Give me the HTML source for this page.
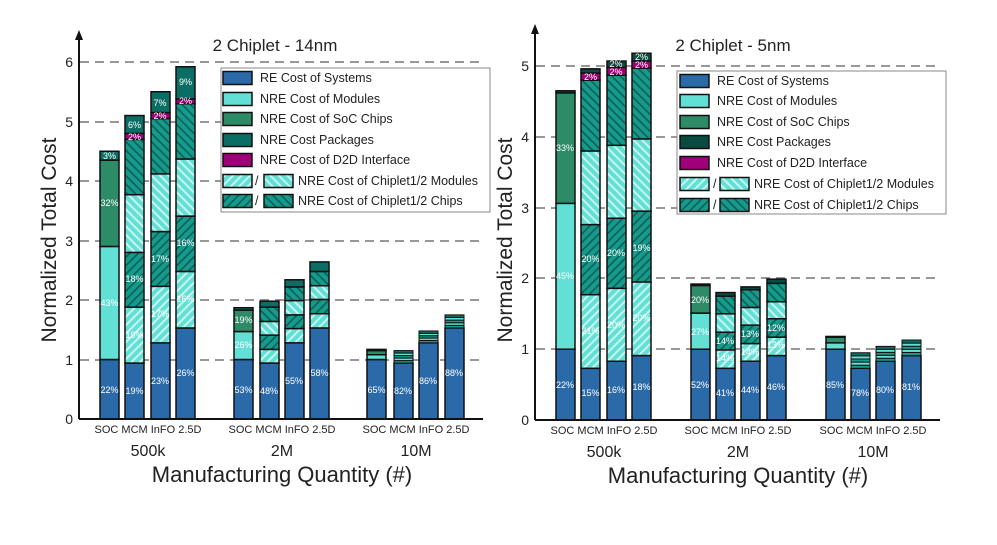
<!DOCTYPE html>
<html><head><meta charset="utf-8"><style>
html,body{margin:0;padding:0;background:#fff;}
svg{display:block;font-family:"Liberation Sans",Arial,sans-serif;}
.pct{fill:#fff;font-size:9px;text-anchor:middle;}
.tk{font-size:14px;fill:#222;text-anchor:end;}
.cat{font-size:11px;fill:#222;text-anchor:middle;}
.grp{font-size:16px;fill:#222;text-anchor:middle;}
.lg{font-size:12.5px;fill:#222;}
</style></head><body>
<svg id="s" width="997" height="545" viewBox="0 0 997 545" xmlns="http://www.w3.org/2000/svg">
<defs>
<pattern id="l1" patternUnits="userSpaceOnUse" width="6" height="6" patternTransform="rotate(45)"><rect width="6" height="6" fill="#62e0d6"/><rect width="2" height="6" fill="#c8f4ef"/></pattern>
<pattern id="l2" patternUnits="userSpaceOnUse" width="6" height="6" patternTransform="rotate(-45)"><rect width="6" height="6" fill="#62e0d6"/><rect width="2" height="6" fill="#c8f4ef"/></pattern>
<pattern id="c1" patternUnits="userSpaceOnUse" width="6" height="6" patternTransform="rotate(45)"><rect width="6" height="6" fill="#169a8c"/><rect width="1.6" height="6" fill="#0c5f56"/></pattern>
<pattern id="c2" patternUnits="userSpaceOnUse" width="6" height="6" patternTransform="rotate(-45)"><rect width="6" height="6" fill="#169a8c"/><rect width="1.6" height="6" fill="#0c5f56"/></pattern>
</defs>
<g stroke="#777" stroke-width="1.6" stroke-dasharray="9,6">
<line x1="80" y1="360" x2="483" y2="360"/><line x1="80" y1="300" x2="483" y2="300"/><line x1="80" y1="241" x2="483" y2="241"/><line x1="80" y1="181" x2="483" y2="181"/><line x1="80" y1="122" x2="483" y2="122"/><line x1="80" y1="62" x2="483" y2="62"/>
<line x1="536" y1="349" x2="940" y2="349"/><line x1="536" y1="278" x2="940" y2="278"/><line x1="536" y1="208" x2="940" y2="208"/><line x1="536" y1="137" x2="940" y2="137"/><line x1="536" y1="66" x2="940" y2="66"/>
</g>
<g id="bars2"></g>
<g stroke="#111" stroke-width="2" fill="none">
<line x1="79" y1="419" x2="483" y2="419"/><line x1="79" y1="419" x2="79" y2="36"/>
<line x1="535" y1="420" x2="940" y2="420"/><line x1="535" y1="420" x2="535" y2="30"/>
</g>
<path d="M79,30 L75,40 L83,40Z M535,24 L531,34 L539,34Z" fill="#111"/>
<g class="tk">
<text x="73" y="424">0</text><text x="73" y="365">1</text><text x="73" y="305">2</text><text x="73" y="246">3</text><text x="73" y="186">4</text><text x="73" y="127">5</text><text x="73" y="67">6</text>
<text x="529" y="425">0</text><text x="529" y="354">1</text><text x="529" y="283">2</text><text x="529" y="213">3</text><text x="529" y="142">4</text><text x="529" y="71">5</text>
</g>
<text x="275" y="51" font-size="17" text-anchor="middle" fill="#222">2 Chiplet - 14nm</text>
<text x="733" y="51" font-size="17" text-anchor="middle" fill="#222">2 Chiplet - 5nm</text>
<text transform="translate(56,240) rotate(-90)" font-size="21" text-anchor="middle" fill="#222">Normalized Total Cost</text>
<text transform="translate(512,240) rotate(-90)" font-size="21" text-anchor="middle" fill="#222">Normalized Total Cost</text>
<g class="cat">
<text x="148" y="433">SOC MCM InFO 2.5D</text><text x="282" y="433">SOC MCM InFO 2.5D</text><text x="416" y="433">SOC MCM InFO 2.5D</text>
<text x="604" y="434">SOC MCM InFO 2.5D</text><text x="738" y="434">SOC MCM InFO 2.5D</text><text x="873" y="434">SOC MCM InFO 2.5D</text>
</g>
<g class="grp">
<text x="148" y="456">500k</text><text x="282" y="456">2M</text><text x="416" y="456">10M</text>
<text x="604" y="457">500k</text><text x="738" y="457">2M</text><text x="873" y="457">10M</text>
</g>
<text x="282" y="482" font-size="22" text-anchor="middle" fill="#222">Manufacturing Quantity (#)</text>
<text x="738" y="483" font-size="22" text-anchor="middle" fill="#222">Manufacturing Quantity (#)</text>
<g class="pct">
<text x="109.5" y="393">22%</text><text x="109.5" y="306">43%</text><text x="109.5" y="206">32%</text><text x="109.5" y="159">3%</text>
<text x="134.5" y="394">19%</text><text x="134.5" y="338">19%</text><text x="134.5" y="282">18%</text><text x="134.5" y="140">2%</text><text x="134.5" y="128">6%</text>
<text x="160" y="384">23%</text><text x="160" y="317">17%</text><text x="160" y="262">17%</text><text x="160" y="119">2%</text><text x="160" y="106">7%</text>
<text x="185.5" y="376">26%</text><text x="185.5" y="302">16%</text><text x="185.5" y="246">16%</text><text x="185.5" y="104">2%</text><text x="185.5" y="85">9%</text>
<text x="243.5" y="393">53%</text><text x="243.5" y="348">26%</text><text x="243.5" y="323">19%</text>
<text x="269" y="394">48%</text><text x="294" y="384">55%</text><text x="319.5" y="376">58%</text>
<text x="376.5" y="393">65%</text><text x="403" y="394">82%</text><text x="428" y="384">86%</text><text x="454" y="376">88%</text>
<text x="565" y="388">22%</text><text x="565" y="279">45%</text><text x="565" y="151">33%</text>
<text x="590.5" y="396">15%</text><text x="590.5" y="334">21%</text><text x="590.5" y="262">20%</text><text x="590.5" y="80">2%</text>
<text x="616" y="393">16%</text><text x="616" y="328">20%</text><text x="616" y="256">20%</text><text x="616" y="75">2%</text><text x="616" y="67">2%</text>
<text x="641.5" y="390">18%</text><text x="641.5" y="321">20%</text><text x="641.5" y="251">19%</text><text x="641.5" y="68">2%</text><text x="641.5" y="60">2%</text>
<text x="700" y="388">52%</text><text x="700" y="335">27%</text><text x="700" y="303">20%</text>
<text x="725" y="396">41%</text><text x="725" y="361">14%</text><text x="725" y="344">14%</text>
<text x="750" y="393">44%</text><text x="750" y="355">14%</text><text x="750" y="337">13%</text>
<text x="776" y="390">46%</text><text x="776" y="348">13%</text><text x="776" y="331">12%</text>
<text x="835" y="388">85%</text><text x="860" y="396">78%</text><text x="885" y="393">80%</text><text x="911" y="390">81%</text>
</g>
<rect x="221" y="68" width="269" height="144" fill="#fff" stroke="#888" stroke-width="1"/>
<rect x="677" y="71" width="269" height="143" fill="#fff" stroke="#888" stroke-width="1"/>
<g id="leg"></g>
<g class="lg">
<text x="260" y="82">RE Cost of Systems</text><text x="260" y="103">NRE Cost of Modules</text><text x="260" y="123">NRE Cost of SoC Chips</text><text x="260" y="144">NRE Cost Packages</text><text x="260" y="164">NRE Cost of D2D Interface</text>
<text x="255" y="185">/</text><text x="298" y="185">NRE Cost of Chiplet1/2 Modules</text><text x="255" y="205">/</text><text x="298" y="205">NRE Cost of Chiplet1/2 Chips</text>
<text x="717" y="85">RE Cost of Systems</text><text x="717" y="105">NRE Cost of Modules</text><text x="717" y="126">NRE Cost of SoC Chips</text><text x="717" y="146">NRE Cost Packages</text><text x="717" y="167">NRE Cost of D2D Interface</text>
<text x="713" y="188">/</text><text x="754" y="188">NRE Cost of Chiplet1/2 Modules</text><text x="713" y="209">/</text><text x="754" y="209">NRE Cost of Chiplet1/2 Chips</text>
</g>
</svg>
<script>
var F={B:"#2a6aa8",M:"#62e0d6",S:"#2e8b68",P:"#0b6e64",Q:"#0a4a40",D:"#a0007a",L1:"url(#l1)",L2:"url(#l2)",C1:"url(#c1)",C2:"url(#c2)",T:"#169a8c",U:"#62e0d6"};
var NS="http://www.w3.org/2000/svg";
function r(g,x,y,w,h,f,sw){var e=document.createElementNS(NS,"rect");e.setAttribute("x",x);e.setAttribute("y",y);e.setAttribute("width",w);e.setAttribute("height",h);e.setAttribute("fill",f);e.setAttribute("stroke","#111");e.setAttribute("stroke-width",sw||"1.5");g.appendChild(e);}
function chip(b,top){var s=[["B",0,b]],st=(top-b)/5;var t=["T","U","T","U","P"];for(var i=0;i<5;i++)s.push([t[i],b+i*st,b+(i+1)*st,1]);return s;}
function draw(gid,x0s,z,u,bars){var g=document.getElementById(gid);bars.forEach(function(bar,i){bar.forEach(function(s){var y1=z-u*s[2],y2=z-u*s[1];r(g,x0s[i],y1,19,y2-y1,F[s[0]],s[3]?"1":"1.5");});});}
var L=[
[["B",0,1],["M",1,2.9],["S",2.9,4.35],["P",4.35,4.5]],
[["B",0,.94],["L1",.94,1.88],["C1",1.88,2.8],["L2",2.8,3.77],["C2",3.77,4.7],["D",4.7,4.8],["P",4.8,5.1]],
[["B",0,1.28],["L1",1.28,2.23],["C1",2.23,3.15],["L2",3.15,4.12],["C2",4.12,5.05],["D",5.05,5.15],["P",5.15,5.5]],
[["B",0,1.53],["L1",1.53,2.48],["C1",2.48,3.41],["L2",3.41,4.37],["C2",4.37,5.3],["D",5.3,5.38],["P",5.38,5.92]],
[["B",0,1],["M",1,1.47],["S",1.47,1.83],["P",1.83,1.87]],
[["B",0,.94],["L1",.94,1.17],["C1",1.17,1.41],["L2",1.41,1.64],["C2",1.64,1.88],["P",1.88,1.98]],
[["B",0,1.28],["L1",1.28,1.52],["C1",1.52,1.75],["L2",1.75,1.99],["C2",1.99,2.22],["P",2.22,2.34]],
[["B",0,1.53],["L1",1.53,1.77],["C1",1.77,2.01],["L2",2.01,2.24],["C2",2.24,2.48],["P",2.48,2.64]],
[["B",0,1],["M",1,1.08],["S",1.08,1.15],["P",1.15,1.17]],
chip(.94,1.15),chip(1.28,1.48),chip(1.53,1.75)];
draw("bars2",[100,125,151,176,234,260,285,310,367,394,419,445],419,59.5,L);
var R=[
[["B",0,1],["M",1,3.06],["S",3.06,4.62],["Q",4.62,4.65]],
[["B",0,.73],["L1",.73,1.77],["C1",1.77,2.76],["L2",2.76,3.8],["C2",3.8,4.8],["D",4.8,4.9],["Q",4.9,4.96]],
[["B",0,.83],["L1",.83,1.86],["C1",1.86,2.85],["L2",2.85,3.88],["C2",3.88,4.87],["D",4.87,4.98],["Q",4.98,5.07]],
[["B",0,.91],["L1",.91,1.95],["C1",1.95,2.95],["L2",2.95,3.97],["C2",3.97,4.97],["D",4.97,5.07],["Q",5.07,5.18]],
[["B",0,1],["M",1,1.51],["S",1.51,1.9],["Q",1.9,1.92]],
[["B",0,.73],["L1",.73,.99],["C1",.99,1.24],["L2",1.24,1.5],["C2",1.5,1.75],["Q",1.75,1.8]],
[["B",0,.83],["L1",.83,1.08],["C1",1.08,1.34],["L2",1.34,1.59],["C2",1.59,1.84],["Q",1.84,1.88]],
[["B",0,.91],["L1",.91,1.17],["C1",1.17,1.43],["L2",1.43,1.67],["C2",1.67,1.93],["Q",1.93,1.99]],
[["B",0,1],["M",1,1.09],["S",1.09,1.17],["Q",1.17,1.18]],
chip(.73,.95),chip(.83,1.04),chip(.91,1.13)];
draw("bars2",[556,581,607,632,691,716,741,767,826,851,876,902],420,70.8,R);
var lg=document.getElementById("leg");
[["B",78],["M",99],["S",119],["P",140],["D",160]].forEach(function(a){r(lg,223,a[1]-6.5,29,13,F[a[0]]);});
r(lg,223,174.5,29,13,F.L1);r(lg,264,174.5,29,13,F.L2);r(lg,223,194.5,29,13,F.C1);r(lg,264,194.5,29,13,F.C2);
[["B",81],["M",101],["S",122],["Q",142],["D",163]].forEach(function(a){r(lg,680,a[1]-6.5,29,13,F[a[0]]);});
r(lg,680,177.5,29,13,F.L1);r(lg,720,177.5,29,13,F.L2);r(lg,680,198.5,29,13,F.C1);r(lg,720,198.5,29,13,F.C2);
</script>
</body></html>
